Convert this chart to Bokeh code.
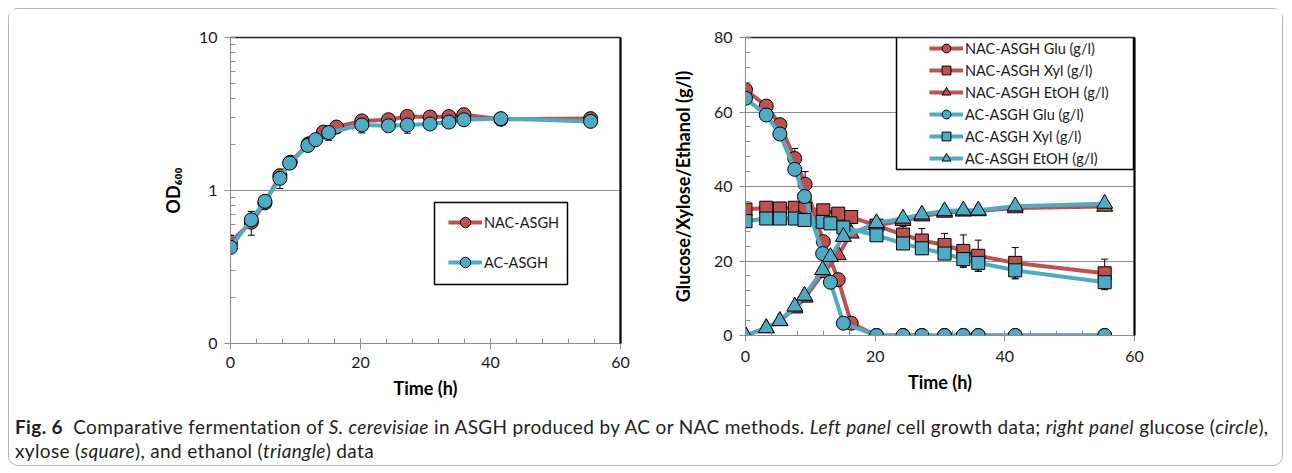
import numpy as np
from bokeh.plotting import figure
from bokeh.models import (ColumnDataSource, Whisker, TeeHead, Legend, LegendItem, LinearAxis, LogAxis,
                          BoxAnnotation, Div, FixedTicker, SingleIntervalTicker, Range1d)
from bokeh.layouts import row, column
from bokeh.embed import file_html
from bokeh.resources import INLINE

# ---------------- data ----------------
t_nac = [0, 3.2, 5.3, 7.6, 9.2, 12.0, 14.3, 16.3, 20.2, 24.3, 27.2, 30.7, 33.6, 35.9, 41.6, 55.4]
t_ac = [0, 3.2, 5.3, 7.6, 9.1, 11.9, 13.1, 15.1, 20.2, 24.3, 27.2, 30.7, 33.6, 35.9, 41.6, 55.4]

od_nac = [0.46, 0.62, 0.83, 1.25, 1.53, 2.02, 2.41, 2.60, 2.85, 2.90, 3.05, 3.02, 3.04, 3.13, 2.92, 2.95]
od_ac = [0.425, 0.643, 0.85, 1.20, 1.51, 1.97, 2.15, 2.39, 2.68, 2.65, 2.68, 2.72, 2.80, 2.90, 2.95, 2.83]
od_err_nac = [0.05, 0.11, 0.02, 0.05, 0.04, 0.05, 0.05, 0.05, 0.10, 0.05, 0.10, 0.05, 0.05, 0.05, 0.05, 0.05]
od_err_ac = [0.03, 0.05, 0.04, 0.17, 0.04, 0.05, 0.05, 0.26, 0.30, 0.10, 0.31, 0.10, 0.10, 0.05, 0.05, 0.05]

glu_nac = [66.0, 61.6, 56.6, 47.5, 40.6, 25.2, 15.0, 3.3, 0, 0, 0, 0, 0, 0, 0, 0]
glu_ac = [63.7, 59.2, 54.1, 44.6, 37.3, 22.0, 14.3, 3.3, 0, 0, 0, 0, 0, 0, 0, 0]
glu_err_nac = [0.8, 1.0, 1.6, 2.7, 3.4, 1.0, 1.0, 0.5, 0, 0, 0, 0, 0, 0, 0, 0]
glu_err_ac = [0.5, 0.5, 0.5, 0.5, 0.5, 0.5, 0.5, 0.5, 0, 0, 0, 0, 0, 0, 0, 0]

xyl_nac = [33.8, 34.3, 34.1, 34.3, 34.0, 33.6, 32.7, 31.8, 29.5, 27.1, 25.5, 24.3, 22.7, 21.4, 19.5, 16.7]
xyl_ac = [30.7, 31.4, 31.4, 31.4, 31.0, 30.5, 30.1, 29.0, 26.9, 24.7, 23.4, 22.0, 20.5, 19.5, 17.5, 14.3]
xyl_err_nac = [0.5, 0.5, 0.5, 0.5, 0.5, 0.5, 0.5, 0.5, 0.5, 2.2, 3.2, 3.1, 4.3, 4.2, 4.1, 3.8]
xyl_err_ac = [0.5, 0.5, 0.5, 0.5, 0.5, 0.5, 0.5, 0.5, 0.5, 1.0, 1.5, 1.5, 2.2, 2.2, 2.3, 2.0]

eth_nac = [0, 2.0, 3.9, 7.3, 10.2, 16.8, 21.6, 27.4, 29.6, 30.8, 32.0, 33.0, 33.3, 33.4, 34.2, 34.6]
eth_ac = [0, 2.0, 3.9, 7.8, 10.7, 17.6, 21.1, 26.5, 30.2, 31.4, 32.5, 33.4, 33.6, 33.6, 34.7, 35.4]

od_ticks = [0.1, 1, 10]
od_tick_labels = ["0", "1", "10"]
od_minor = [m * 10.0 ** k for k in (-1, 0) for m in range(2, 10)]

left_labels = ["NAC-ASGH", "AC-ASGH"]
right_labels = ["NAC-ASGH Glu (g/l)", "NAC-ASGH Xyl (g/l)", "NAC-ASGH EtOH (g/l)",
                "AC-ASGH Glu (g/l)", "AC-ASGH Xyl (g/l)", "AC-ASGH EtOH (g/l)"]

RED = "#C0504D"
BLUE = "#4BACC6"
GRAY = "#8c8c8c"
FONT = "Lato"


def style_axis(ax):
    ax.axis_line_color = GRAY
    ax.major_tick_line_color = GRAY
    ax.minor_tick_line_color = GRAY
    ax.major_tick_in = 5
    ax.major_tick_out = 6
    ax.minor_tick_in = 5
    ax.minor_tick_out = 0
    ax.major_label_text_font = FONT
    ax.major_label_text_font_size = "16px"
    ax.major_label_text_color = "#1a1a1a"
    ax.major_label_standoff = 7
    ax.axis_label_text_font = FONT
    ax.axis_label_text_font_style = "bold"
    ax.axis_label_text_font_size = "18px"
    ax.axis_label_text_color = "#000000"


def border_axes(p, log_y=False):
    top = LinearAxis(axis_line_color="#222222", axis_line_width=1.3,
                     major_tick_line_color=None, minor_tick_line_color=None,
                     major_label_text_font_size="0px", major_label_text_color=None)
    p.add_layout(top, "above")
    rcls = LogAxis if log_y else LinearAxis
    right = rcls(axis_line_color="#000000", axis_line_width=2.2,
                 major_tick_line_color=None, minor_tick_line_color=None,
                 major_label_text_font_size="0px", major_label_text_color=None)
    p.add_layout(right, "right")


def whiskers(p, t, y, err):
    y = np.array(y, dtype=float)
    e = np.array(err, dtype=float)
    src = ColumnDataSource(dict(x=t, upper=y + e, lower=y - e))
    w = Whisker(source=src, base="x", upper="upper", lower="lower",
                line_color="black", line_width=1,
                upper_head=TeeHead(size=7, line_color="black", line_width=1),
                lower_head=TeeHead(size=7, line_color="black", line_width=1))
    p.add_layout(w)


# ---------------- left panel ----------------
p1 = figure(y_axis_type="log", x_range=Range1d(0, 60), y_range=Range1d(0.1, 10),
            frame_width=390, frame_height=306,
            min_border_left=221, min_border_right=48, min_border_top=28, min_border_bottom=66,
            output_backend="svg", toolbar_location=None)
p1.background_fill_color = "white"
p1.border_fill_color = "white"
p1.outline_line_color = None

xt1 = SingleIntervalTicker(interval=20, num_minor_ticks=5)
p1.xaxis.ticker = xt1
yt1 = FixedTicker(ticks=od_ticks, minor_ticks=od_minor)
p1.yaxis.ticker = yt1
p1.ygrid.ticker = yt1
p1.yaxis.major_label_overrides = dict(zip(od_ticks, od_tick_labels))
p1.xgrid.visible = False
p1.ygrid.grid_line_color = GRAY
p1.ygrid.grid_line_width = 1
style_axis(p1.xaxis[0])
style_axis(p1.yaxis[0])
p1.xaxis.axis_label = "Time (h)"
p1.yaxis.axis_label = "OD₆₀₀"
p1.xaxis.axis_label_standoff = 6
p1.yaxis.axis_label_standoff = 12
border_axes(p1, log_y=True)

whiskers(p1, t_nac, od_nac, od_err_nac)
whiskers(p1, t_ac, od_ac, od_err_ac)

l_nac = p1.line(t_nac, od_nac, line_color=RED, line_width=4)
s_nac = p1.scatter(t_nac, od_nac, marker="circle", size=14, fill_color=RED, line_color="black", line_width=1)
l_ac = p1.line(t_ac, od_ac, line_color=BLUE, line_width=4)
s_ac = p1.scatter(t_ac, od_ac, marker="circle", size=14, fill_color=BLUE, line_color="black", line_width=1)

box1 = BoxAnnotation(left=204, right=337, bottom=59, top=141,
                     left_units="screen", right_units="screen", top_units="screen", bottom_units="screen",
                     fill_color="white", fill_alpha=1, line_color="black", line_width=1.5, line_alpha=1)
p1.add_layout(box1)
leg1 = Legend(items=[LegendItem(label=left_labels[0], renderers=[l_nac, s_nac]),
                     LegendItem(label=left_labels[1], renderers=[l_ac, s_ac])],
              location=(218, 68), padding=0, spacing=14, margin=0,
              glyph_width=34, glyph_height=26, label_height=26, label_standoff=2,
              border_line_color=None, background_fill_alpha=0,
              label_text_font=FONT, label_text_font_size="14.5px", label_text_color="#1a1a1a")
p1.add_layout(leg1)

# ---------------- right panel ----------------
p2 = figure(x_range=Range1d(0, 60), y_range=Range1d(0, 80),
            frame_width=389, frame_height=298,
            min_border_left=76, min_border_right=148, min_border_top=26, min_border_bottom=75,
            output_backend="svg", toolbar_location=None)
p2.background_fill_color = "white"
p2.border_fill_color = "white"
p2.outline_line_color = None
xt2 = SingleIntervalTicker(interval=20, num_minor_ticks=5)
yt2 = SingleIntervalTicker(interval=20, num_minor_ticks=5)
p2.xaxis.ticker = xt2
p2.yaxis.ticker = yt2
p2.ygrid.ticker = yt2
p2.xgrid.visible = False
p2.ygrid.grid_line_color = GRAY
style_axis(p2.xaxis[0])
style_axis(p2.yaxis[0])
p2.xaxis.axis_label = "Time (h)"
p2.yaxis.axis_label = "Glucose/Xylose/Ethanol (g/l)"
p2.xaxis.axis_label_standoff = 6
p2.xaxis.major_label_standoff = 9
p2.yaxis.axis_label_standoff = 17
border_axes(p2)

for t, y, e in [(t_nac, glu_nac, glu_err_nac), (t_nac, xyl_nac, xyl_err_nac),
                (t_ac, glu_ac, glu_err_ac), (t_ac, xyl_ac, xyl_err_ac)]:
    whiskers(p2, t, y, e)

series = [(t_nac, glu_nac, RED, "circle", 14), (t_nac, xyl_nac, RED, "square", 13),
          (t_nac, eth_nac, RED, "triangle", 16),
          (t_ac, glu_ac, BLUE, "circle", 14), (t_ac, xyl_ac, BLUE, "square", 13),
          (t_ac, eth_ac, BLUE, "triangle", 16)]
items = []
for (t, y, c, m, sz), lab in zip(series, right_labels):
    lr = p2.line(t, y, line_color=c, line_width=4)
    sr = p2.scatter(t, y, marker=m, size=sz, fill_color=c, line_color="black", line_width=1)
    items.append(LegendItem(label=lab, renderers=[lr, sr]))

box2 = BoxAnnotation(left=151, right=388, bottom=166, top=298,
                     left_units="screen", right_units="screen", top_units="screen", bottom_units="screen",
                     fill_color="white", fill_alpha=1, line_color="black", line_width=1.5, line_alpha=1)
p2.add_layout(box2)
leg2 = Legend(items=items, location=(184, 166), padding=0, spacing=0, margin=0,
              glyph_width=34, glyph_height=22, label_height=22, label_standoff=2,
              border_line_color=None, background_fill_alpha=0,
              label_text_font=FONT, label_text_font_size="14.5px", label_text_color="#1a1a1a")
p2.add_layout(leg2)

# ---------------- caption ----------------
caption_html = (
    '<div style="font-family: Lato, sans-serif; font-size: 19px; letter-spacing: 0.35px; line-height: 24px; '
    'color: #231f20; padding: 6px 0 0 6px; white-space: nowrap;">'
    '<b>Fig. 6</b>&nbsp; Comparative fermentation of <i>S. cerevisiae</i> in ASGH produced by AC or NAC methods. '
    '<i>Left panel</i> cell growth data; <i>right panel</i> glucose (<i>circle</i>),<br>'
    'xylose (<i>square</i>), and ethanol (<i>triangle</i>) data</div>'
)
cap = Div(text=caption_html, width=1270, height=56, margin=0)

layout = column(row(p1, p2), cap, margin=(8, 8, 8, 8),
                styles={"border": "1px solid #b5b5b5", "border-radius": "10px", "background": "white"})

open("out.html", "w").write(file_html(layout, INLINE))
